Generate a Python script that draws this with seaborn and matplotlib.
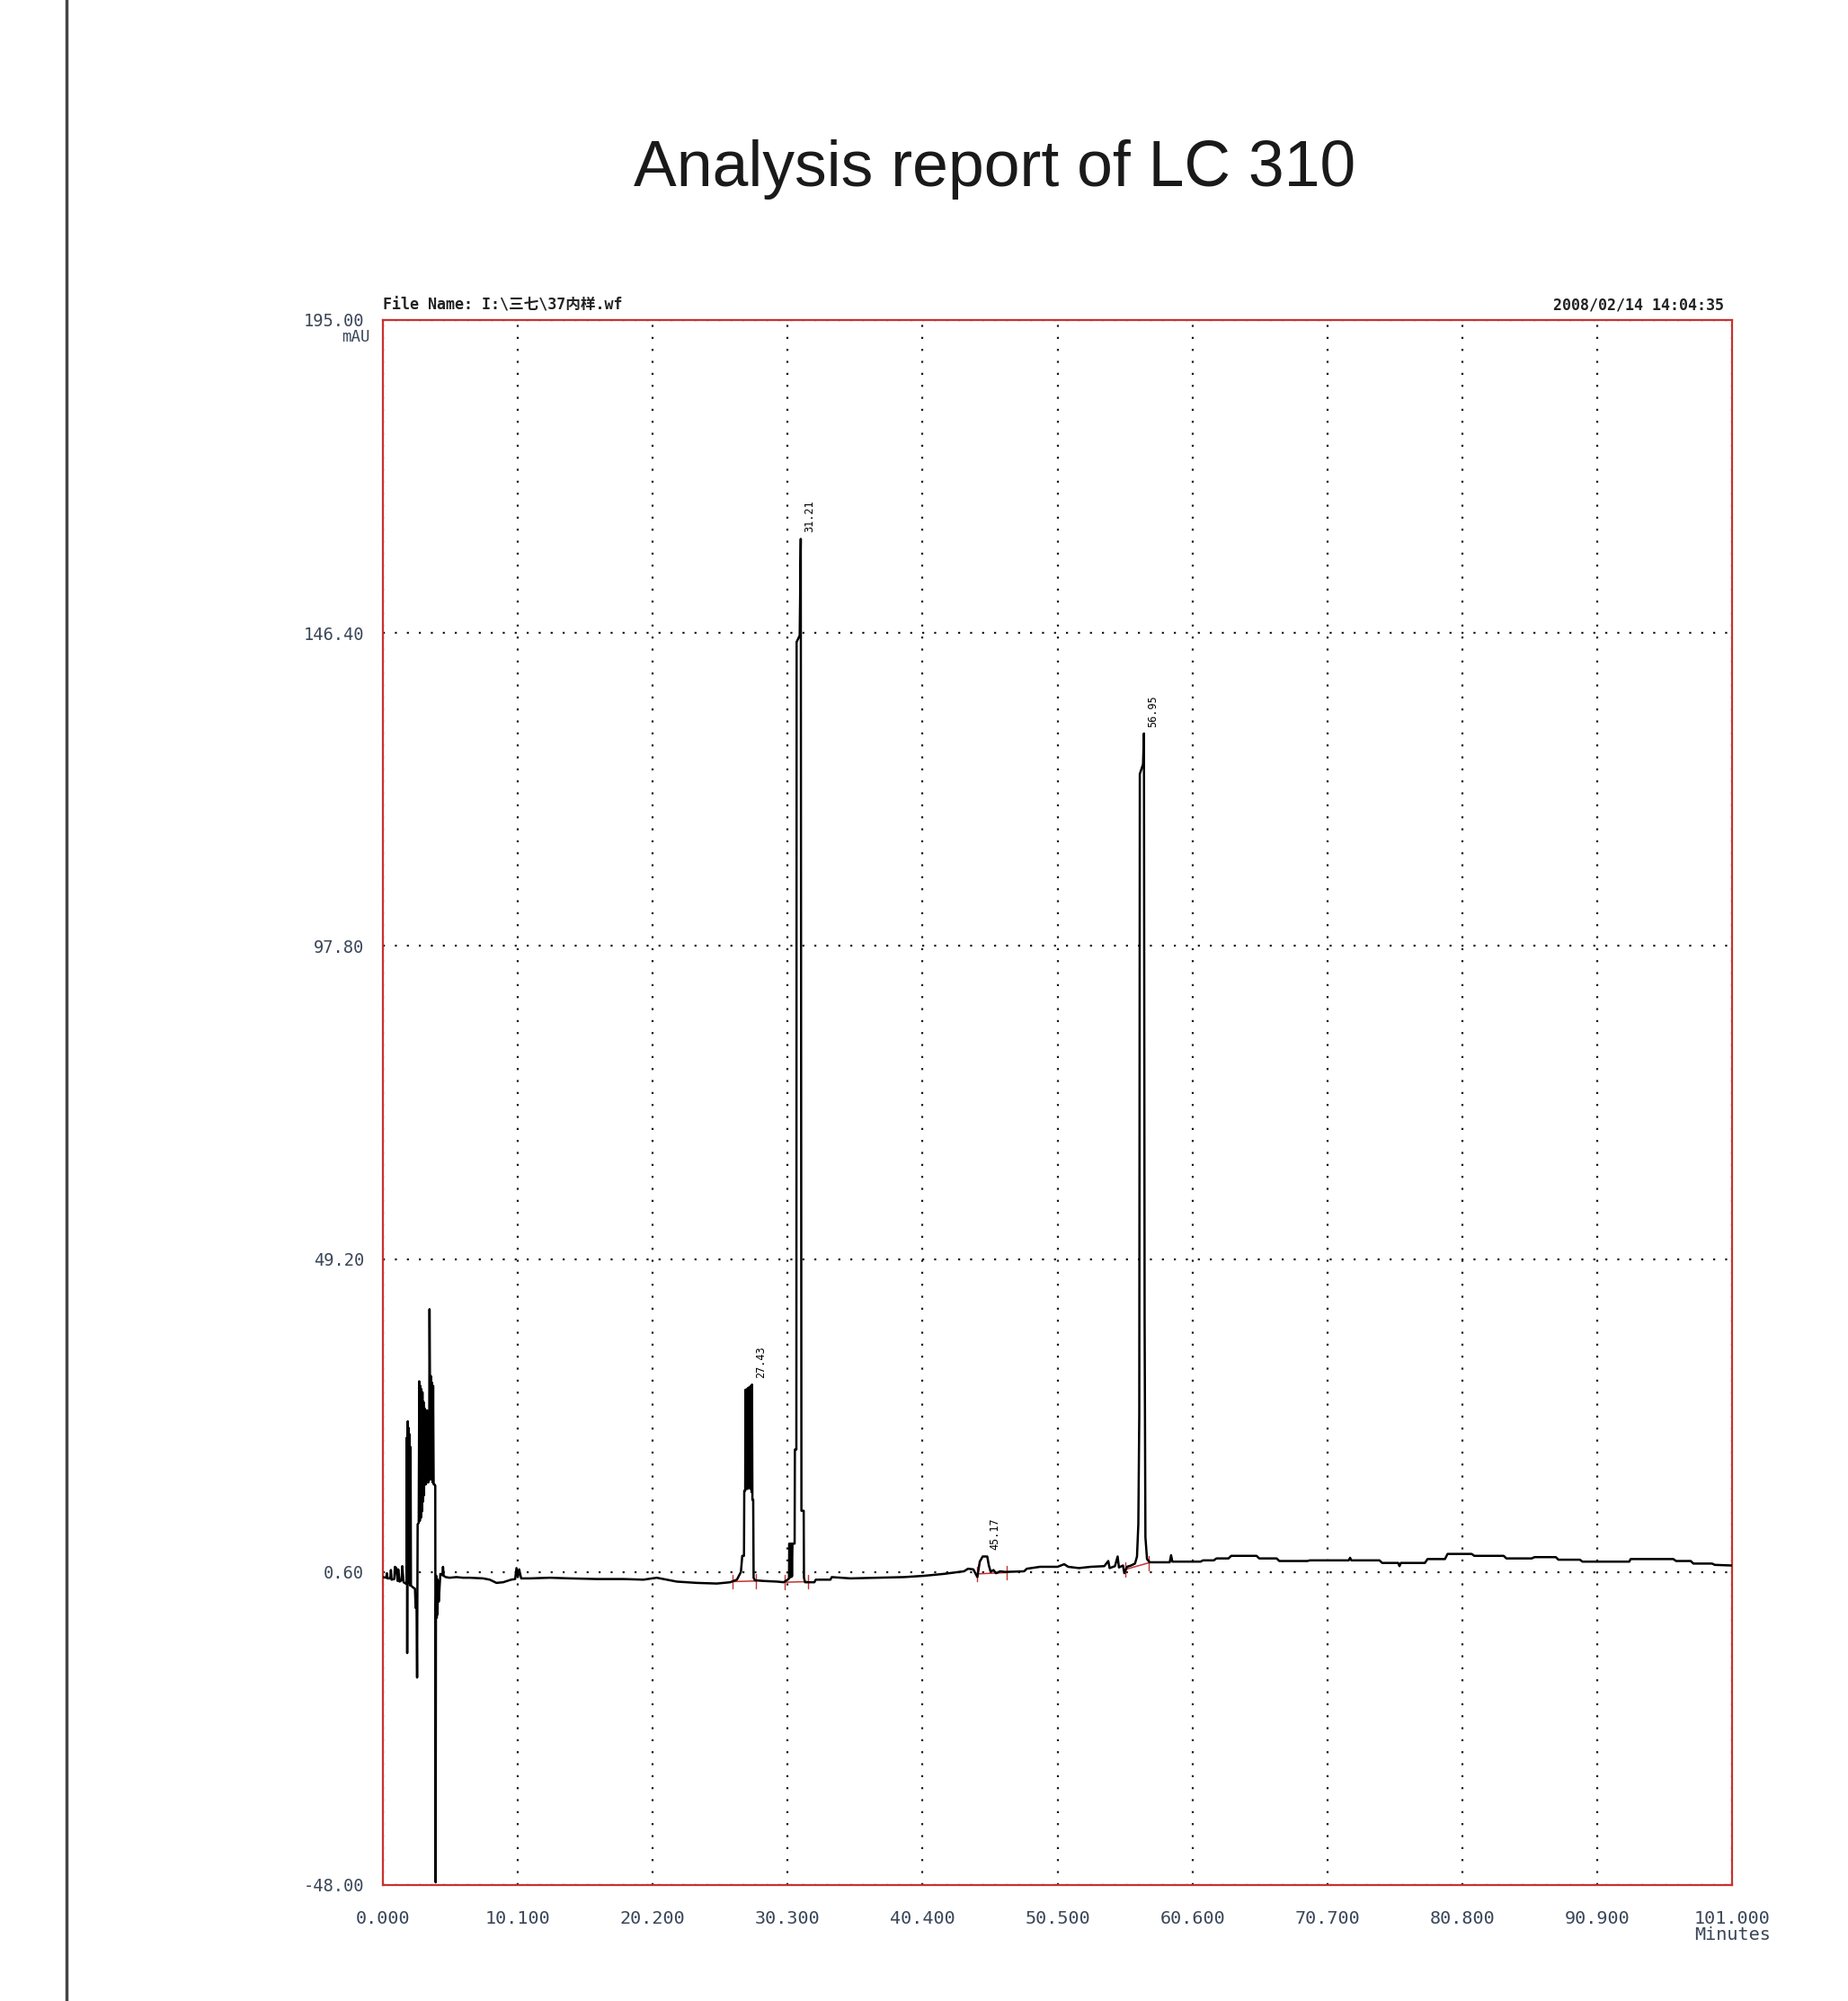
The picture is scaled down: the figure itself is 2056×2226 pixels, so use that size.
import numpy as np
import pandas as pd
import matplotlib
matplotlib.use("Agg")
import matplotlib.pyplot as plt
from matplotlib.ticker import FixedLocator
from matplotlib.lines import Line2D
import seaborn as sns

# ---------------- data ----------------
# early injection noise, 0-6 min
t_noise = [0.00, 0.25, 0.30, 0.35, 0.55, 0.60, 0.65, 0.85, 0.90, 1.00, 1.10, 1.15,
           1.25, 1.40, 1.45, 1.55, 1.70, 1.78, 1.80, 1.82, 1.86, 1.88, 1.92, 1.95,
           1.99, 2.03, 2.07, 2.10, 2.25, 2.40, 2.45, 2.52, 2.56, 2.60, 2.68, 2.72,
           2.76, 2.80, 2.84, 2.88, 2.92, 2.96, 3.00, 3.04, 3.08, 3.12, 3.16, 3.22,
           3.30, 3.34, 3.40, 3.46, 3.49, 3.52, 3.56, 3.60, 3.64, 3.68, 3.72, 3.76,
           3.80, 3.86, 3.92, 3.95, 3.97, 4.00, 4.03, 4.06, 4.09, 4.12, 4.18, 4.30,
           4.45, 4.50, 4.55, 4.70, 5.00, 5.50, 6.00]
v_noise = [-0.2, -0.3, 0.4, -0.4, -0.4, 0.9, -0.6, -0.5, 1.4, 1.2, -0.8, 1.0,
           -0.9, -0.7, 1.5, -1.0, -1.2, -1.0, 21.5, -12.0, 24.0, -0.5, 23.0, -1.0,
           22.0, -1.5, 20.0, -1.5, -1.8, -2.0, -5.0, -4.8, -15.8, 8.0, 8.2, 30.2,
           8.5, 29.5, 9.0, 29.0, 10.0, 28.5, 11.5, 27.0, 12.5, 26.0, 14.2, 14.2,
           25.7, 14.5, 14.5, 15.0, 41.4, 31.5, 15.0, 31.0, 15.0, 30.0, 14.5, 29.5,
           14.2, 14.2, 14.0, -47.6, -6.2, 0.0, -6.5, -0.5, -6.0, -0.8, -4.0, 0.3,
           0.1, 1.4, 0.0, -0.2, -0.3, -0.2, -0.3]

# baseline and peaks 1-2, 6-33 min
t_mid = [6.5, 7.5, 8.0, 8.5, 9.0, 9.6, 9.9, 10.0, 10.1, 10.2, 10.35, 11.0, 12.5,
         14.0, 16.0, 18.0, 19.5, 20.5, 21.0, 22.0, 23.5, 25.0, 26.0, 26.5, 26.8,
         26.9, 27.03, 27.05, 27.12, 27.14, 27.2, 27.25, 27.3, 27.35, 27.4, 27.45,
         27.5, 27.55, 27.6, 27.63, 27.66, 27.72, 27.75, 27.85, 28.5, 29.5, 30.0,
         30.3, 30.4, 30.42, 30.46, 30.50, 30.54, 30.58, 30.62, 30.66, 30.82, 30.84,
         30.95, 30.97, 31.20, 31.28, 31.33, 31.50, 31.52, 31.6, 32.3, 32.4, 33.5]
v_mid = [-0.3, -0.4, -0.6, -1.1, -1.0, -0.6, -0.5, 1.2, -0.2, 1.0, -0.4, -0.4, -0.3,
         -0.4, -0.5, -0.5, -0.6, -0.3, -0.5, -0.9, -1.1, -1.2, -1.0, -0.6, 0.6,
         3.1, 3.1, 13.2, 13.2, 28.9, 13.5, 29.0, 13.5, 29.2, 13.8, 29.3,
         13.5, 29.5, 13.0, 29.7, 11.8, 11.8, -0.3, -0.7, -0.8, -0.9, -1.0,
         -0.6, -0.4, 5.0, -0.2, 5.0, -0.2, 5.0, -0.1, 5.0, 5.0, 19.6,
         19.6, 145.0, 146.0, 161.0, 10.1, 10.1, -0.3, -1.0, -1.0, -0.6, -0.6]

# baseline and peaks 3-4, 33.6-101 min
t_late = [33.6, 35.0, 37.0, 39.0, 40.5, 42.0, 43.5, 43.8, 44.2, 44.5, 44.68, 44.9,
          45.24, 45.36, 45.5, 45.7, 45.9, 46.2, 46.6, 48.0, 48.2, 49.2, 50.5, 51.0,
          51.3, 52.1, 53.0, 54.0, 54.3, 54.4, 54.8, 55.0, 55.1, 55.4, 55.5, 55.7,
          56.0, 56.3, 56.45, 56.55, 56.62, 56.66, 56.90, 56.97, 57.02, 57.08, 57.2,
          57.4, 58.9, 59.0, 59.1, 61.2, 61.4, 62.2, 62.4, 63.3, 63.5, 65.4, 65.6,
          66.9, 67.1, 69.2, 69.4, 72.3, 72.4, 72.5, 74.6, 74.8, 76.0, 76.1, 76.2,
          78.0, 78.2, 79.5, 79.7, 81.5, 81.7, 83.9, 84.1, 86.0, 86.2, 87.8, 88.0,
          89.6, 89.8, 93.3, 93.4, 96.6, 96.8, 97.9, 98.1, 99.5, 99.7, 101.0]
v_late = [-0.2, -0.4, -0.3, -0.2, 0.0, 0.3, 0.7, 1.1, 1.0, -0.2, 2.2, 3.0,
          3.0, 1.6, 0.6, 0.9, 0.4, 0.7, 0.6, 0.7, 1.1, 1.4, 1.4, 1.8,
          1.4, 1.2, 1.4, 1.5, 2.3, 1.2, 1.5, 3.0, 1.3, 1.6, 0.4, 1.4,
          1.6, 1.9, 3.0, 8.0, 25.0, 124.5, 126.0, 130.8, 40.0, 6.0, 2.6,
          2.1, 2.1, 3.2, 2.2, 2.2, 2.4, 2.4, 2.7, 2.7, 3.1, 3.1, 2.7,
          2.7, 2.3, 2.3, 2.4, 2.4, 2.8, 2.4, 2.4, 2.0, 2.0, 1.5, 2.0,
          2.0, 2.6, 2.6, 3.4, 3.4, 3.1, 3.1, 2.7, 2.7, 2.9, 2.9, 2.5,
          2.5, 2.2, 2.2, 2.6, 2.6, 2.3, 2.3, 1.9, 1.9, 1.7, 1.6]

# integrated peaks
peak_rt = [27.63, 31.28, 45.10, 56.97]
peak_top = [29.7, 161.0, 3.0, 130.8]
peak_labels = ["27.43", "31.21", "45.17", "56.95"]
# integration baselines drawn in red (start t, start v, end t, end v)
base_t0 = [26.2, 30.1, 44.5, 55.6]
base_v0 = [-0.9, -1.0, 0.3, 1.0]
base_t1 = [27.9, 31.8, 46.7, 57.3]
base_v1 = [-0.8, -0.9, 0.5, 2.0]

x_ticks = [0.0, 10.1, 20.2, 30.3, 40.4, 50.5, 60.6, 70.7, 80.8, 90.9, 101.0]
x_labels = ["0.000", "10.100", "20.200", "30.300", "40.400", "50.500",
            "60.600", "70.700", "80.800", "90.900", "101.000"]
y_ticks = [-48.0, 0.6, 49.2, 97.8, 146.4, 195.0]
y_labels = ["-48.00", "0.60", "49.20", "97.80", "146.40", "195.00"]

title = "Analysis report of LC 310"
file_name = "File Name: I:\\三七\\37内样.wf"
stamp = "2008/02/14 14:04:35"

# ---------------- drawing ----------------
sns.set_theme(style="white")
plt.rcParams["font.family"] = ["DejaVu Sans Mono", "Noto Sans CJK SC"]

RED = "#c8322f"
TXT = "#3a4658"

fig = plt.figure(figsize=(20.56, 22.26), dpi=100)
fig.patch.set_facecolor("white")
ax = fig.add_axes([0.2072, 0.0580, 0.7301, 0.7821])
ax.set_facecolor("white")

trace = pd.DataFrame({"t": t_noise + t_mid + t_late,
                      "v": v_noise + v_mid + v_late})
sns.lineplot(data=trace, x="t", y="v", sort=False, estimator=None,
             color="black", lw=1.8, ax=ax, zorder=4)

# integration baselines and their start/end marks
for a, va, b, vb in zip(base_t0, base_v0, base_t1, base_v1):
    seg = pd.DataFrame({"t": [a, b], "v": [va, vb]})
    sns.lineplot(data=seg, x="t", y="v", sort=False, estimator=None,
                 color=RED, lw=1.1, ax=ax, zorder=3)
    for tt, vv in ((a, va), (b, vb)):
        ax.plot([tt, tt], [vv - 1.1, vv + 1.1], color=RED, lw=1.0, zorder=3)

for rt, top, lab in zip(peak_rt, peak_top, peak_labels):
    ax.text(rt + 0.25, top + 1.0, lab, rotation=90, ha="left", va="bottom",
            fontsize=8.5, color="black", family=["DejaVu Sans Mono"])

ax.set_xlim(0, 101)
ax.set_ylim(-48, 195)
ax.set_xticks(x_ticks)
ax.set_xticklabels(x_labels)
ax.set_yticks(y_ticks)
ax.set_yticklabels(y_labels)
ax.xaxis.set_minor_locator(FixedLocator(np.arange(0, 101.01, 2.02)))
ax.yaxis.set_minor_locator(FixedLocator(np.arange(-48, 195.01, 9.72)))
ax.set_xlabel("")
ax.set_ylabel("")

ax.tick_params(axis="x", which="major", length=11, width=1.2, color="#222222",
               direction="out", pad=9, labelsize=14.5, labelcolor=TXT)
ax.tick_params(axis="x", which="minor", length=6, width=1.0, color="#222222",
               direction="out")
ax.tick_params(axis="y", which="major", length=9, width=1.2, color="#555555",
               direction="out", pad=6, labelsize=13.5, labelcolor=TXT)
ax.tick_params(axis="y", which="minor", length=6, width=1.0, color="#777777",
               direction="out")

ax.grid(True, which="major", color="#1a1a1a", linestyle=(0, (1, 5)), lw=1.6)
for s in ax.spines.values():
    s.set_visible(True)
    s.set_color(RED)
    s.set_linewidth(1.6)

ax.annotate("mAU", xy=(0, 1), xycoords="axes fraction", xytext=(-22, -14),
            textcoords="offset points", ha="center", va="center",
            fontsize=12.5, color=TXT)
ax.annotate("Minutes", xy=(1, 0), xycoords="axes fraction", xytext=(0, -40),
            textcoords="offset points", ha="center", va="center",
            fontsize=14.5, color=TXT)
ax.text(0.0, 1.004, file_name, transform=ax.transAxes, ha="left", va="bottom",
        fontsize=12, weight="bold", color="#222222")
ax.text(0.994, 1.004, stamp, transform=ax.transAxes, ha="right", va="bottom",
        fontsize=12, weight="bold", color="#222222")

fig.text(0.538, 0.9155, title, ha="center", va="center", fontsize=51.5,
         color="#1a1a1a", family=["Liberation Sans", "DejaVu Sans"])

# outer page frame line on the left
fig.add_artist(Line2D([0.036, 0.036], [0.0, 1.0], transform=fig.transFigure,
                      color="#444444", lw=2.5))

fig.savefig("out.png", dpi=100, facecolor="white")
